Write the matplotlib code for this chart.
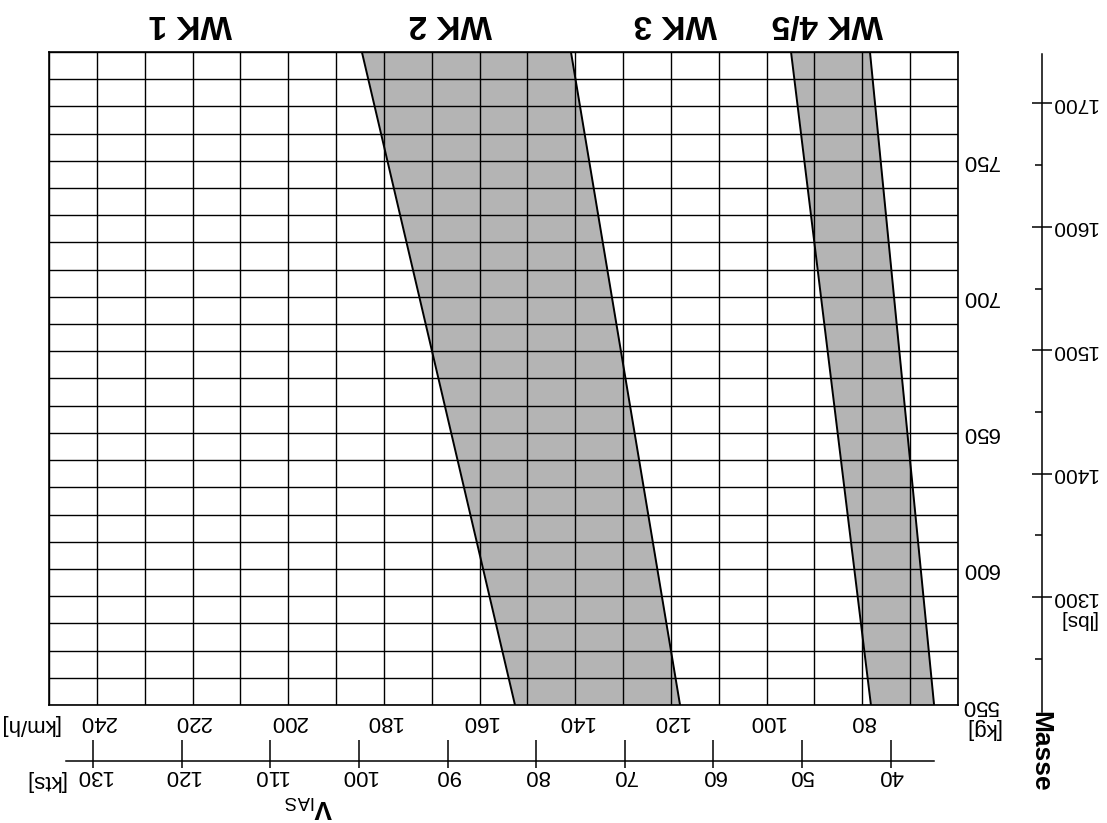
import numpy as np
import matplotlib
matplotlib.use("Agg")
import matplotlib.pyplot as plt

plt.rcParams['font.family'] = ['Liberation Sans', 'DejaVu Sans']
plt.rcParams['mathtext.fontset'] = 'custom'
plt.rcParams['mathtext.rm'] = 'Liberation Sans'
plt.rcParams['mathtext.bf'] = 'Liberation Sans:bold'

# mass axis (kg) and the speed limits of the shaded bands (km/h)
mass_kg = [550, 790]
wk2_edge = [152.6, 184.6]
wk3_edge = [118.1, 140.9]
wk45_left = [78.2, 94.9]
wk45_right = [65.0, 78.4]

kmh_labels = [80, 100, 120, 140, 160, 180, 200, 220, 240]
kts_labels = [40, 50, 60, 70, 80, 90, 100, 110, 120, 130]
kg_labels = [550, 600, 650, 700, 750]
lbs_labels = [1300, 1400, 1500, 1600, 1700]
lbs_minor = [1250, 1350, 1450, 1550, 1650]

zones = ["WK 1", "WK 2", "WK 3", "WK 4/5"]
zone_x = [220.5, 166.2, 119.2, 87.2]

W, H = 1107, 823
fig = plt.figure(figsize=(W / 100, H / 100), dpi=100)
ax = fig.add_axes([49 / W, 1 - 705 / H, 909 / W, 653 / H])
ax.set_xlim(250, 60)
ax.set_ylim(550, 790)

shade = '#b4b4b4'
ax.fill_betweenx(mass_kg, wk2_edge, wk3_edge, color=shade, lw=0, zorder=1)
ax.fill_betweenx(mass_kg, wk45_left, wk45_right, color=shade, lw=0, zorder=1)
for edge in (wk2_edge, wk3_edge, wk45_left, wk45_right):
    ax.plot(edge, mass_kg, color='black', lw=1.4, zorder=3)

# grid every 10 km/h and every 10 kg
ax.set_xticks(np.arange(60, 251, 10), minor=True)
ax.set_yticks(np.arange(550, 791, 10), minor=True)
ax.set_xticks(kmh_labels, [str(v) for v in kmh_labels], rotation=180)
ax.yaxis.tick_right()
ax.set_yticks(kg_labels, [str(v) for v in kg_labels], rotation=180, va='center')
ax.grid(True, which='both', color='black', lw=1.0)
ax.tick_params(which='both', length=0)
ax.tick_params(axis='x', labelsize=16, pad=4)
ax.tick_params(axis='y', labelsize=16, pad=3)
for s in ax.spines.values():
    s.set_linewidth(1.2)

# knots scale below
kts = ax.secondary_xaxis(-0.0858, functions=(lambda v: np.asarray(v) / 1.852,
                                             lambda v: np.asarray(v) * 1.852))
kts.xaxis.remove_overlapping_locs = False
kts.set_xticks(kts_labels, [str(v) for v in kts_labels], rotation=180)
kts.set_xticks(kts_labels, minor=True)
kts.tick_params(which='major', direction='in', length=15, width=1.1,
                labelsize=16, pad=3)
kts.tick_params(which='minor', direction='out', length=5, width=1.1)
kts.spines['bottom'].set_bounds(35.1, 133.1)
kts.spines['bottom'].set_linewidth(1.1)

# pounds scale on the right
lbs = ax.secondary_yaxis(1.0924, functions=(lambda v: np.asarray(v) / 0.45359237,
                                            lambda v: np.asarray(v) * 0.45359237))
lbs.set_yticks(lbs_labels, [str(v) for v in lbs_labels], rotation=180, va='center')
lbs.set_yticks(lbs_minor, minor=True)
lbs.tick_params(which='major', direction='inout', length=14.4, width=1.1,
                labelsize=15, pad=-1)
lbs.tick_params(which='minor', direction='in', length=5, width=1.1)
lbs.spines['right'].set_bounds(1207, 1740)
lbs.spines['right'].set_linewidth(1.1)

tr = ax.get_xaxis_transform()
for name, x in zip(zones, zone_x):
    ax.text(x, 1.0444, name, transform=tr, rotation=180, ha='center',
            va='center', fontsize=24, fontweight='bold')


def px_text(x, y, s, **kw):
    fig.text(x / W, 1 - y / H, s, ha='center', va='center', **kw)


px_text(29, 724, "[km/h]", rotation=180, fontsize=16)
px_text(45, 780, "[kts]", rotation=180, fontsize=16)
px_text(309, 806, r"$\mathbf{V}_{\mathrm{IAS}}$", rotation=180, fontsize=19)
px_text(982, 729, "[kg]", rotation=180, fontsize=16)
px_text(1077, 620, "[lbs]", rotation=180, fontsize=15)
px_text(1040, 751, "Masse", rotation=-90, fontsize=19, fontweight='bold')

fig.savefig("out.png", dpi=100)
